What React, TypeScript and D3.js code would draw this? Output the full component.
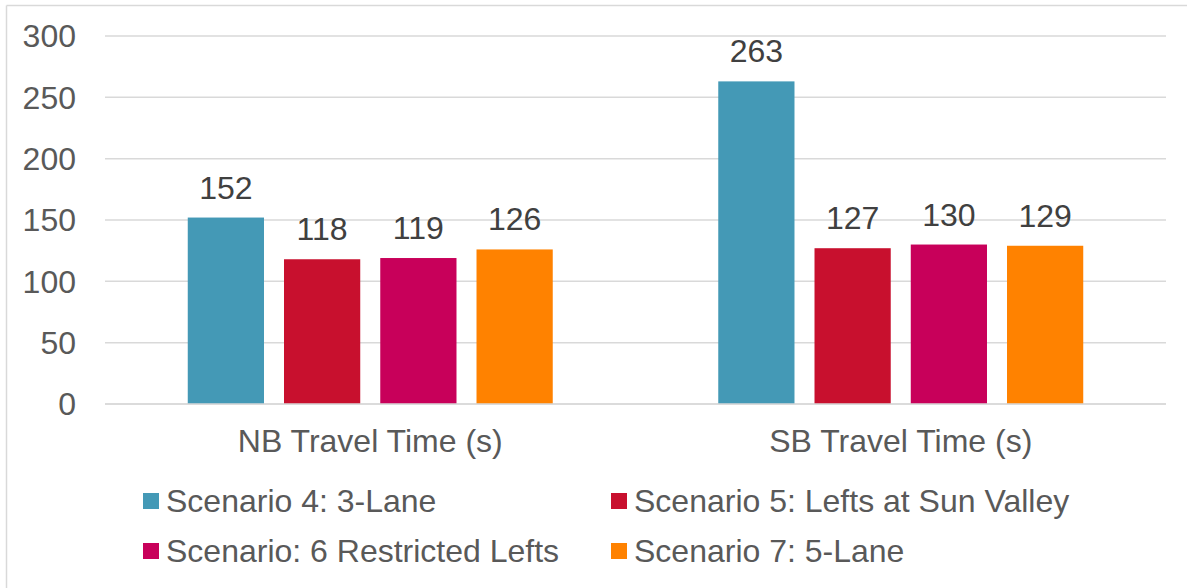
import React from "react";
import * as d3 from "d3";

const categories = ["NB Travel Time (s)", "SB Travel Time (s)"];
const seriesNames = [
  "Scenario 4: 3-Lane",
  "Scenario 5: Lefts at Sun Valley",
  "Scenario: 6 Restricted Lefts",
  "Scenario 7: 5-Lane",
];
const seriesColors = ["#4499B6", "#C8102E", "#C8005A", "#FF8200"];
const nbValues = [152, 118, 119, 126];
const sbValues = [263, 127, 130, 129];
const yTicks = [0, 50, 100, 150, 200, 250, 300];

const W = 1187;
const H = 588;
const plotLeft = 105;
const plotRight = 1166;
const plotTop = 36;
const plotBottom = 404;
const textColor = "#595959";
const font = "Arial, 'Liberation Sans', sans-serif";
const fs = 32;

export default function App() {
  const values = [nbValues, sbValues];
  const y = d3.scaleLinear().domain([0, 300]).range([plotBottom, plotTop]);
  const x0 = d3.scaleBand<string>().domain(categories).range([plotLeft, plotRight]).padding(0);
  const bw = x0.bandwidth();
  const outer = bw * 0.156;
  const x1 = d3
    .scaleBand<string>()
    .domain(seriesNames)
    .range([outer, bw - outer])
    .paddingInner(0.208)
    .paddingOuter(0);

  return (
    <svg
      width={W}
      height={H}
      style={{ position: "absolute", left: 0, top: 0, background: "#fff" }}
      fontFamily={font}
    >
      <rect x={0} y={0} width={W} height={H} fill="#fff" />
      <line x1={6.5} y1={5.5} x2={W} y2={5.5} stroke="#D9D9D9" strokeWidth={1.5} />
      <line x1={6.5} y1={5.5} x2={6.5} y2={H} stroke="#D9D9D9" strokeWidth={1.5} />
      {yTicks.map((t) => (
        <g key={t}>
          <line x1={plotLeft} x2={plotRight} y1={y(t)} y2={y(t)} stroke="#D9D9D9" strokeWidth={1.5} />
          <text x={76} y={y(t)} dy="0.35em" textAnchor="end" fontSize={fs} fill={textColor}>
            {t}
          </text>
        </g>
      ))}
      {categories.map((c, ci) => (
        <g key={c} transform={`translate(${x0(c)},0)`}>
          {seriesNames.map((s, si) => {
            const v = values[ci][si];
            const bx = x1(s)!;
            return (
              <g key={s}>
                <rect x={bx} y={y(v)} width={x1.bandwidth()} height={y(0) - y(v)} fill={seriesColors[si]} />
                <text
                  x={bx + x1.bandwidth() / 2}
                  y={y(v) - 19}
                  textAnchor="middle"
                  fontSize={fs}
                  fill="#404040"
                >
                  {v}
                </text>
              </g>
            );
          })}
          <text x={bw / 2} y={452} textAnchor="middle" fontSize={fs} fill={textColor}>
            {c}
          </text>
        </g>
      ))}
      <line x1={plotLeft} x2={plotRight} y1={y(0)} y2={y(0)} stroke="#D9D9D9" strokeWidth={1.5} />
      {seriesNames.map((s, i) => {
        const col = i % 2;
        const row = Math.floor(i / 2);
        const lx = col === 0 ? 143 : 611;
        const ly = row === 0 ? 501 : 551;
        return (
          <g key={s}>
            <rect x={lx} y={ly - 8} width={16} height={16} fill={seriesColors[i]} />
            <text x={lx + 23} y={ly} dy="0.35em" fontSize={fs} fill={textColor}>
              {s}
            </text>
          </g>
        );
      })}
    </svg>
  );
}
